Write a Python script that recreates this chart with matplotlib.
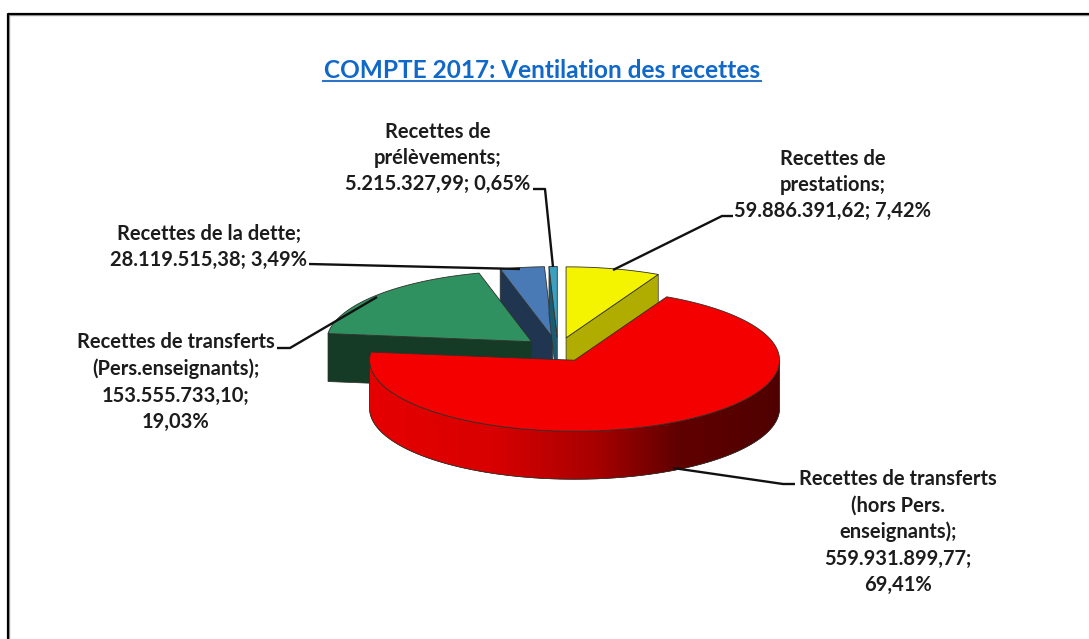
import matplotlib
matplotlib.use("Agg")
import matplotlib.pyplot as plt
import numpy as np
from matplotlib.colors import LinearSegmentedColormap

plt.rcParams['font.family'] = ['Lato', 'DejaVu Sans']

# montants de la ventilation, dans l'ordre du graphique (sens horaire depuis midi)
montants = [59886391.62, 559931899.77, 153555733.10, 28119515.38, 5215327.99]
labels = [
    "Recettes de\nprestations;\n59.886.391,62; 7,42%",
    "Recettes de transferts\n(hors Pers.\nenseignants);\n559.931.899,77;\n69,41%",
    "Recettes de transferts\n(Pers.enseignants);\n153.555.733,10;\n19,03%",
    "Recettes de la dette;\n28.119.515,38; 3,49%",
    "Recettes de\nprélèvements;\n5.215.327,99; 0,65%",
]
title = "COMPTE 2017: Ventilation des recettes"

top_colors = ['#f4f400', '#f40000', '#2f9160', '#4a7ab5', '#3a9fc0']
side_colors = ['#b0ad00', '#e00000', '#153a26', '#1f3550', '#1c5a70']
label_pos = [(833, 185), (898, 532), (176, 382), (209, 247), (438, 158)]
leaders = [
    [(613, 270), (722, 216), (733, 216)],
    [(673, 468), (783, 484), (795, 484)],
    [(277, 348), (290, 348), (377, 297)],
    [(309, 264), (393, 266), (520, 269)],
    [(533, 189), (545, 189), (553, 267)],
]

cx, cy = 558, 349.6
rx, ry = 205, 71
depth = 48
explode = 0.17
edge = '#30302a'

fig = plt.figure(figsize=(10.89, 6.39), dpi=100)
ax = fig.add_axes([0, 0, 1, 1])
ax.set_xlim(0, 1089)
ax.set_ylim(639, 0)
ax.axis('off')


def pt(a, x0, y0, dy=0):
    # a en degres, sens horaire depuis midi
    a = np.radians(a)
    return x0 + rx*np.sin(a), y0 - ry*np.cos(a) + dy


# cadre
ax.plot([8.5, 8.5, 1089], [639, 14.5, 14.5], color='#a0a0a0', lw=1, zorder=1)
ax.plot([7.5, 7.5, 1089], [639, 13.5, 13.5], color='black', lw=1.6, zorder=1)

parts = np.array(montants) / sum(montants) * 360
stops = np.concatenate([[0], np.cumsum(parts)])

red_side = LinearSegmentedColormap.from_list(
    'rs', [(0, '#e60000'), (0.3, '#d80000'), (0.55, '#a80000'), (0.75, '#600000'), (1, '#500000')])

z = 2
for i in [3, 4, 2, 0, 1]:
    a0, a1 = stops[i], stops[i + 1]
    mid = np.radians((a0 + a1) / 2)
    x0 = cx + explode*rx*np.sin(mid)
    y0 = cy - explode*ry*np.cos(mid)

    # faces radiales visibles
    if np.sin(np.radians(a0)) < 0:
        ex, ey = pt(a0, x0, y0)
        ax.fill([x0, ex, ex, x0], [y0, ey, ey + depth, y0 + depth],
                fc=side_colors[i], ec=edge, lw=0.5, zorder=z)
        z += 1
    if np.sin(np.radians(a1)) > 0:
        ex, ey = pt(a1, x0, y0)
        ax.fill([x0, ex, ex, x0], [y0, ey, ey + depth, y0 + depth],
                fc=side_colors[i], ec=edge, lw=0.5, zorder=z)
        z += 1

    # bord exterieur, seulement la partie vers l'avant
    s0, s1 = max(a0, 90), min(a1, 270)
    if s1 > s0:
        arc = np.linspace(s0, s1, 150)
        xt, yt = pt(arc, x0, y0)
        xs = np.concatenate([xt, xt[::-1]])
        ys = np.concatenate([yt, yt[::-1] + depth])
        poly = ax.fill(xs, ys, fc=side_colors[i], ec=edge, lw=0.5, zorder=z)[0]
        z += 1
        if i == 1:
            grad = np.linspace(0, 1, 256).reshape(1, -1)
            im = ax.imshow(grad, cmap=red_side, aspect='auto', zorder=z,
                           extent=[xt.min(), xt.max(), ys.max(), ys.min()])
            im.set_clip_path(poly)
            z += 1
            ax.plot(xs, ys, color=edge, lw=0.5, zorder=z)
            z += 1

    # dessus
    arc = np.linspace(a0, a1, 200)
    xt, yt = pt(arc, x0, y0)
    ax.fill(np.r_[x0, xt], np.r_[y0, yt], fc=top_colors[i], ec=edge, lw=0.6,
            joinstyle='miter', zorder=z)
    z += 1

ax.set_xlim(0, 1089)
ax.set_ylim(639, 0)

for line in leaders:
    ax.plot(*zip(*line), color='#111111', lw=1.7, zorder=z, solid_capstyle='butt')

for txt, (x, y) in zip(labels, label_pos):
    ax.text(x, y, txt, ha='center', va='center', fontsize=14.5, fontweight='bold',
            color='#1c1c1c', linespacing=1.4, zorder=z + 1)

ax.text(542, 71, title, ha='center', va='center', fontsize=17.6, fontweight='bold',
        color='#1068c8', zorder=z + 1)
ax.plot([323, 761], [81, 81], color='#2e75c8', lw=1.5, zorder=z + 1)

fig.savefig('out.png', dpi=100)
